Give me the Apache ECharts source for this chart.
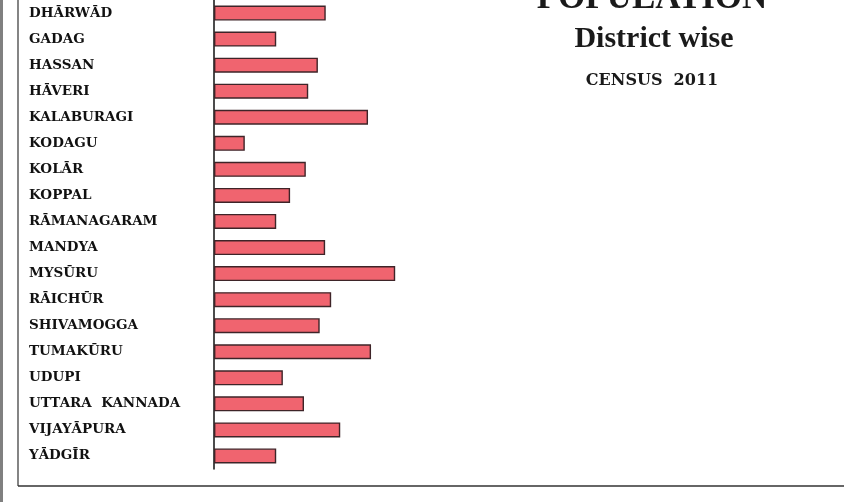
<!DOCTYPE html>
<html>
<head>
<meta charset="utf-8">
<script src="https://cdn.jsdelivr.net/npm/echarts@6/dist/echarts.min.js"></script>
<style>html,body{margin:0;padding:0;background:#fff;}#c{width:844px;height:502px;}</style>
</head>
<body>
<div id="c"></div>
<script>
// District names (as printed)
const districts = ['DHĀRWĀD','GADAG','HASSAN','HĀVERI','KALABURAGI','KODAGU','KOLĀR','KOPPAL','RĀMANAGARAM','MANDYA','MYSŪRU','RĀICHŪR','SHIVAMOGGA','TUMAKŪRU','UDUPI','UTTARA  KANNADA','VIJAYĀPURA','YĀDGĪR'];
// Population (lakhs)
const population = [18.5, 10.3, 17.2, 15.6, 25.5, 5.1, 15.2, 12.6, 10.3, 18.4, 30.0, 19.4, 17.5, 26.0, 11.4, 14.9, 20.9, 10.3];
const titleMain = 'POPULATION';
const titleSub = 'District wise';
const titleCensus = 'CENSUS  2011';

const chart = echarts.init(document.getElementById('c'));
chart.setOption({
  backgroundColor: '#ffffff',
  animation: false,
  grid: { left: 214, width: 604, top: 0, bottom: 33 },
  xAxis: { type: 'value', min: 0, max: 100, show: false },
  yAxis: {
    type: 'category', data: districts, inverse: true,
    axisLine: { show: true, lineStyle: { color: '#111', width: 1.5 } },
    axisTick: { show: false },
    axisLabel: { align: 'left', margin: 185, color: '#111', fontFamily: 'DejaVu Serif', fontWeight: 'bold', fontSize: 13.5 }
  },
  series: [{
    type: 'bar', data: population, barWidth: 15,
    itemStyle: { color: '#f0646f', borderColor: '#3e2428', borderWidth: 1.4 }
  }],
  graphic: [
    { type: 'rect', z: -1, shape: { x: 0, y: 0, width: 3, height: 502 }, style: { fill: '#808080' } },
    { type: 'line', shape: { x1: 18, y1: 0, x2: 18, y2: 486 }, style: { stroke: '#333', lineWidth: 1.2 } },
    { type: 'line', shape: { x1: 18, y1: 486, x2: 844, y2: 486 }, style: { stroke: '#333', lineWidth: 1.5 } },
    { type: 'text', style: { text: titleMain, x: 652, y: -1, align: 'center', verticalAlign: 'middle', font: 'bold 35px "Liberation Serif"', fill: '#1a1a1a' } },
    { type: 'text', style: { text: titleSub, x: 654, y: 39, align: 'center', verticalAlign: 'middle', font: 'bold 30px "Liberation Serif"', fill: '#1a1a1a' } },
    { type: 'text', style: { text: titleCensus, x: 652, y: 81, align: 'center', verticalAlign: 'middle', font: 'bold 16px "DejaVu Serif"', fill: '#1a1a1a' } }
  ]
});
</script>
</body>
</html>
